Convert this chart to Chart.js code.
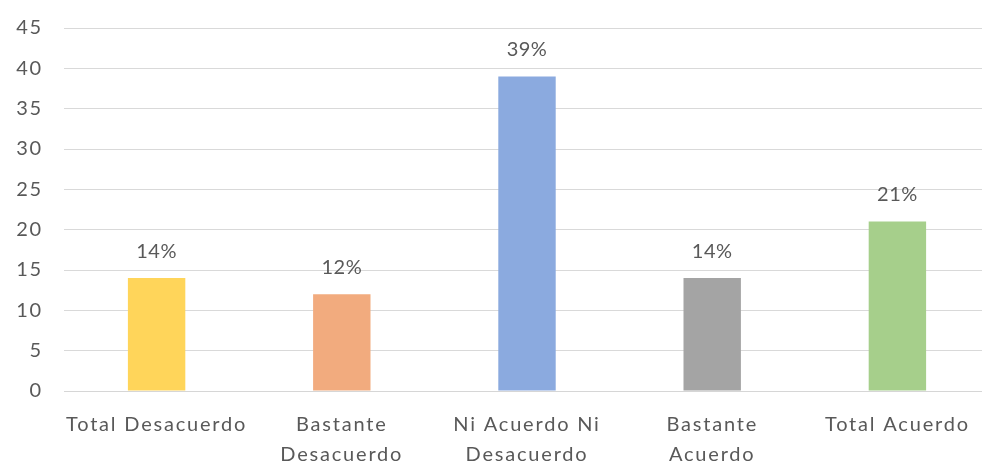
<!DOCTYPE html>
<html>
<head>
<meta charset="utf-8">
<script src="https://cdn.jsdelivr.net/npm/chart.js@4"></script>
<style>
  html, body { margin: 0; padding: 0; background: #fff; overflow: hidden; }
  #wrap { width: 990px; height: 468px; position: relative; }
</style>
</head>
<body>
<div id="wrap"><canvas id="chart"></canvas></div>
<script>
// Survey answers and their share of respondents (%)
const categories = [
  ["Total Desacuerdo"],
  ["Bastante", "Desacuerdo"],
  ["Ni Acuerdo Ni", "Desacuerdo"],
  ["Bastante", "Acuerdo"],
  ["Total Acuerdo"]
];
const values = [14, 12, 39, 14, 21];
const valueLabels = ["14%", "12%", "39%", "14%", "21%"];
const barColors = ["#FFD55A", "#F2AB7E", "#8BAADF", "#A4A4A4", "#A6CF8B"];

const textColor = "#595959";
const fontFamily = "Lato, 'Liberation Sans', sans-serif";

// Slightly open tracking for the axis text
const trackingPlugin = {
  id: "tracking",
  beforeLayout(chart) { chart.ctx.letterSpacing = "1.8px"; },
  beforeDraw(chart) { chart.ctx.letterSpacing = "1.8px"; }
};

// Writes each bar's percentage above it
const valueLabelPlugin = {
  id: "valueLabels",
  afterDatasetsDraw(chart) {
    const ctx = chart.ctx;
    const meta = chart.getDatasetMeta(0);
    ctx.save();
    ctx.letterSpacing = "0.5px";
    ctx.fillStyle = textColor;
    ctx.font = "20px " + fontFamily;
    ctx.textAlign = "center";
    ctx.textBaseline = "middle";
    meta.data.forEach((bar, i) => {
      ctx.fillText(valueLabels[i], bar.x, bar.y - 27);
    });
    ctx.restore();
  }
};

new Chart(document.getElementById("chart"), {
  type: "bar",
  data: {
    labels: categories,
    datasets: [{
      data: values,
      backgroundColor: barColors,
      borderWidth: 0,
      barPercentage: 0.31,
      categoryPercentage: 1
    }]
  },
  options: {
    responsive: true,
    maintainAspectRatio: false,
    animation: false,
    layout: { padding: { top: 28, left: 0, right: 0, bottom: 0 } },
    plugins: {
      legend: { display: false },
      tooltip: { enabled: false }
    },
    scales: {
      x: {
        grid: { display: false, drawTicks: false },
        border: { display: true, color: "#d6d6d6", width: 1 },
        ticks: {
          color: textColor,
          font: { family: fontFamily, size: 20, lineHeight: 1.5 },
          padding: 19,
          maxRotation: 0,
          autoSkip: false
        },
        afterFit(scale) { scale.height = 77; }
      },
      y: {
        min: 0,
        max: 45,
        grid: { color: "#d9d9d9", lineWidth: 1, drawTicks: false },
        border: { display: false },
        ticks: {
          stepSize: 5,
          color: textColor,
          font: { family: fontFamily, size: 20 },
          padding: 21
        },
        afterFit(scale) {
          scale.width = 64;
          scale.paddingTop = 0;
          scale.paddingBottom = 0;
        }
      }
    }
  },
  plugins: [trackingPlugin, valueLabelPlugin]
});
</script>
</body>
</html>
